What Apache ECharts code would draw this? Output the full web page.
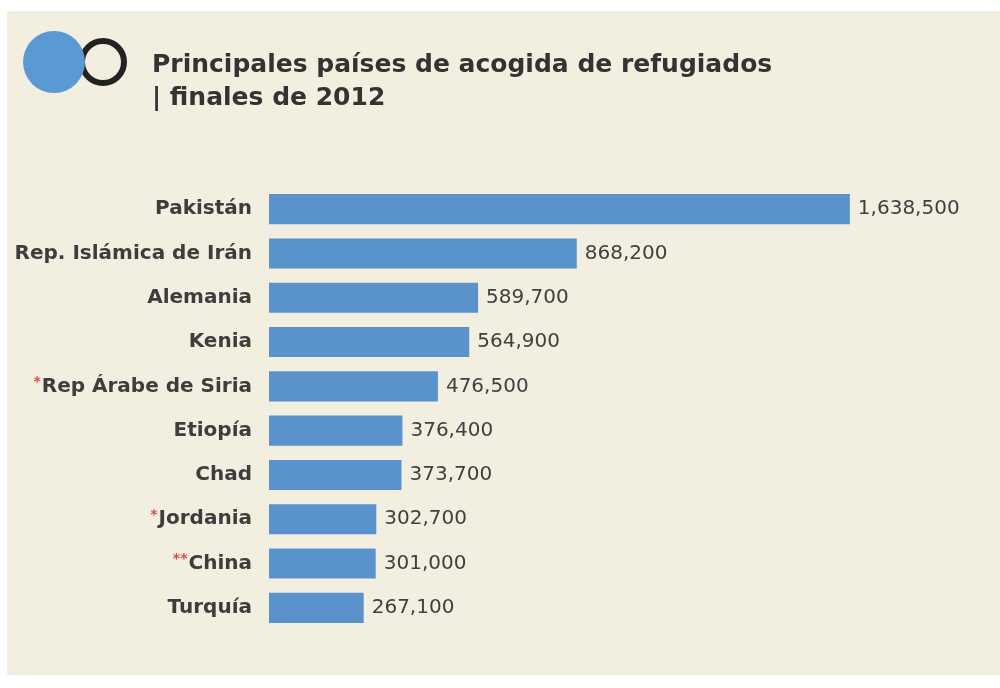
<!DOCTYPE html>
<html><head><meta charset="utf-8">
<script src="https://cdn.jsdelivr.net/npm/echarts@6/dist/echarts.min.js"></script>
<style>html,body{margin:0;padding:0;background:#fff}#c{width:1000px;height:688px}</style>
</head><body><div id="c"></div>
<script>
var categories = ['Pakistán','Rep. Islámica de Irán','Alemania','Kenia','*Rep Árabe de Siria','Etiopía','Chad','*Jordania','**China','Turquía'];
var values = [1638500, 868200, 589700, 564900, 476500, 376400, 373700, 302700, 301000, 267100];
var titleLine1 = 'Principales países de acogida de refugiados';
var titleLine2 = '| finales de 2012';

var FONT = '"DejaVu Sans", sans-serif';
var chart = echarts.init(document.getElementById('c'));
chart.setOption({
  backgroundColor: '#ffffff',
  animation: false,
  graphic: [
    {type:'rect', z:-10, shape:{x:7,y:11,width:993,height:664}, style:{fill:'#f3efe0'}},
    {type:'circle', shape:{cx:103,cy:62,r:21}, style:{fill:'none',stroke:'#222222',lineWidth:6}},
    {type:'circle', shape:{cx:54,cy:62,r:31}, style:{fill:'#5a99d4'}},
    {type:'text', left:152, top:53, style:{text:titleLine1, font:'bold 25px ' + FONT, fill:'#333333'}},
    {type:'text', left:152, top:86, style:{text:titleLine2, font:'bold 25px ' + FONT, fill:'#333333'}}
  ],
  grid: {left:269, right:22, top:187, bottom:58, containLabel:false},
  xAxis: {type:'value', min:0, max:2000000, show:false},
  yAxis: {
    type:'category', data:categories, inverse:true,
    axisLine:{show:false}, axisTick:{show:false},
    axisLabel:{
      margin:17, fontSize:20, fontFamily:FONT, fontWeight:'bold', color:'#3d3d3d',
      formatter:function(v){
        var m = v.match(/^(\*+)(.*)$/);
        if (m) return '{s|' + m[1] + '}' + m[2];
        return v;
      },
      rich:{s:{color:'#e0464a', fontSize:14, fontFamily:FONT, verticalAlign:'top', padding:[0,1,8,0]}}
    }
  },
  series: [{
    type:'bar', data:values, barCategoryGap:'32%',
    itemStyle:{color:'#5a93cb'},
    label:{show:true, position:'right', distance:8, fontSize:20, fontFamily:FONT, color:'#404040',
      formatter:function(p){return p.value.toLocaleString('en-US');}}
  }]
});
</script></body></html>
